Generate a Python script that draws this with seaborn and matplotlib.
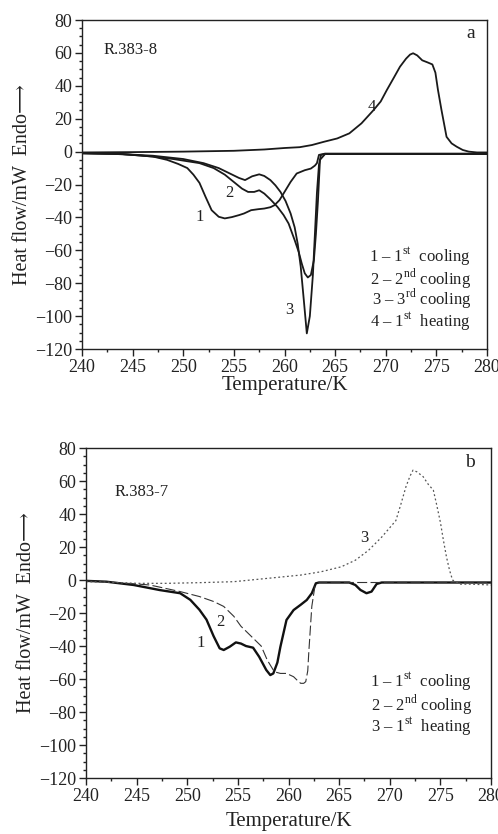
import matplotlib
matplotlib.use('Agg')
import matplotlib.pyplot as plt
from matplotlib.ticker import MultipleLocator
import seaborn as sns

# ---------------- panel a : R.383-8 ----------------
a1_temp = [240, 243, 245, 247, 248.4, 249.5, 250.4, 251.0, 251.6, 252.2, 252.8, 253.5, 254.1, 254.8,
           255.5, 256.0, 256.7, 257.4, 258.0, 258.6, 259.0, 259.5, 259.9, 260.6, 261.2, 262.0, 262.6,
           263.0, 263.2, 263.4, 264, 270, 280]
a1_flow = [-1, -1.3, -2, -3, -5, -7.5, -10, -14, -19, -27.5, -35.6, -39.6, -40.6, -39.8,
           -38.6, -37.6, -35.6, -35, -34.6, -33.8, -32.6, -29.5, -25.5, -18.4, -13.3, -11.3, -10.3,
           -8.5, -7, -2, -1.2, -1.2, -1.2]

a2_temp = [240, 244, 247, 249, 251.6, 253, 254.1, 255, 255.8, 256.4, 257.0, 257.5, 258.0, 258.6, 259.3,
           259.9, 260.4, 261.0, 261.4, 261.7, 262.0, 262.3, 262.6, 262.9, 263.1, 263.3, 263.5, 264, 280]
a2_flow = [-1, -1.5, -3, -4.5, -7, -10, -14, -18.5, -22.5, -24.5, -24.5, -23.5, -25.5, -29, -33.6,
           -38.5, -43.7, -53.8, -61, -68, -74, -76.5, -75, -66, -50, -30, -5, -1.5, -1.5]

a3_temp = [240, 244, 247, 250, 252, 253.5, 254.6, 255.5, 256.1, 256.8, 257.5, 258.0, 258.6, 259.1, 259.6,
           260.1, 260.6, 261.0, 261.3, 261.6, 261.9, 262.2, 262.5, 262.8, 263.0, 263.2, 263.4, 263.6, 264, 280]
a3_flow = [-1, -1.5, -2.5, -4.5, -7, -10, -13.3, -16, -17.3, -15, -13.8, -14.8, -17.3, -20.5, -24.5,
           -30, -37.6, -46, -56, -70, -90, -110.5, -100, -75, -50, -25, -8, -2, -1.5, -1.5]

a4_temp = [240, 245, 250, 255, 258, 260, 261.5, 262.7, 263.9, 265.2, 266.4, 267.6, 268.8, 269.5, 270.1,
           270.8, 271.4, 272.0, 272.4, 272.7, 273.1, 273.6, 274.1, 274.6, 274.9, 275.15, 275.5, 276.0,
           276.5, 277.0, 277.6, 278.2, 279, 280]
a4_flow = [-0.5, -0.3, 0, 0.5, 1.3, 2.2, 2.7, 4, 6, 8, 11.1, 17.2, 25.3, 30.5, 37.4,
           45, 51.6, 56.5, 59, 59.8, 58.5, 55.5, 54.3, 53, 48, 37.6, 25.3, 9,
           5, 3, 1, 0, -0.5, -0.5]

a_legend = ['1 – 1$^{\\mathrm{st}}$  cooling', '2 – 2$^{\\mathrm{nd}}$ cooling',
            '3 – 3$^{\\mathrm{rd}}$ cooling', '4 – 1$^{\\mathrm{st}}$  heating']
a_legend_y = [-64, -77, -89.5, -103]

# ---------------- panel b : R.383-7 ----------------
b1_temp = [240, 242, 244.7, 247.3, 249.3, 250.3, 251.2, 251.9, 252.6, 253.2, 253.6, 254.2, 254.8, 255.3,
           255.8, 256.5, 257.1, 257.8, 258.2, 258.5, 258.9, 259.2, 259.8, 260.5, 261.2, 261.8, 262.3,
           262.7, 263.0, 266.0, 266.6, 267.1, 267.7, 268.2, 268.7, 269.2, 280]
b1_flow = [-0.5, -1, -3, -6.1, -8, -12, -18, -24, -34, -41.4, -42.4, -40.4, -37.8, -38.5,
           -40, -41, -46.5, -54.5, -57.6, -56.6, -50, -40.4, -24.2, -18.2, -15, -12.1, -8,
           -2, -1.5, -1.5, -3, -6, -8, -7, -2.4, -1.5, -1.5]

b2_temp = [240, 243, 246.3, 249.3, 251.2, 252.6, 253.6, 254.6, 255.3, 256.3, 257.3, 257.9, 258.6, 259.2,
           259.8, 260.5, 260.9, 261.2, 261.5, 261.7, 261.9, 262.0, 262.15, 262.3, 262.6, 263, 280]
b2_flow = [-0.5, -1.5, -3, -7, -10, -13, -16, -22, -28, -34, -40, -48.5, -55.6, -56.6,
           -56.6, -58.6, -61, -62.6, -62.6, -61.6, -55, -44, -30, -16, -4, -1.5, -1.5]

b3_temp = [240, 243, 245, 248, 251.2, 254.6, 257.9, 261.2, 263.2, 265.2, 266.6, 267.9, 269.2, 270.6,
           271.1, 271.6, 272.0, 272.3, 272.7, 273.3, 273.8, 274.3, 274.6, 275.0, 275.3, 275.6, 275.9,
           276.2, 276.5, 277, 278, 280]
b3_flow = [-1, -1.5, -2, -2, -1.6, -1, 1, 3, 5, 8, 12, 18, 26, 36,
           46, 56.6, 63, 66.6, 65.5, 62.6, 58, 54.5, 46.5, 35, 24, 14, 6,
           0, -1, -2.5, -2.5, -3]

b_legend = ['1 – 1$^{\\mathrm{st}}$  cooling', '2 – 2$^{\\mathrm{nd}}$ cooling',
            '3 – 1$^{\\mathrm{st}}$  heating']
b_legend_y = [-61.6, -75.8, -89]

# **************************************************************************

sns.set_style('ticks')
plt.rcParams['font.family'] = ['Liberation Serif', 'DejaVu Serif']
plt.rcParams['mathtext.fontset'] = 'custom'
plt.rcParams['mathtext.rm'] = 'Liberation Serif'
plt.rcParams['axes.unicode_minus'] = True

INK = '#222222'


def style_axes(ax, xpad):
    ax.set_xlim(240, 280)
    ax.set_ylim(-120, 80)
    ax.xaxis.set_major_locator(MultipleLocator(5))
    ax.xaxis.set_minor_locator(MultipleLocator(2.5))
    ax.yaxis.set_major_locator(MultipleLocator(20))
    ax.yaxis.set_minor_locator(MultipleLocator(5))
    ax.tick_params(which='major', direction='out', length=5, width=1, labelsize=13,
                   colors=INK, pad=2)
    ax.tick_params(which='minor', direction='out', length=2.5, width=1, colors=INK)
    for s in ax.spines.values():
        s.set_visible(True)
        s.set_linewidth(1.0)
        s.set_color(INK)
    ax.set_xlabel('Temperature/K', fontsize=15, labelpad=xpad, color=INK)
    ax.set_ylabel('Heat flow/mW  Endo\u27f6', fontsize=14.5, labelpad=2, color=INK)


fig = plt.figure(figsize=(4.98, 8.34), dpi=100)
ax_a = fig.add_axes([0.1647, 0.5815, 0.8133, 0.3945])
ax_b = fig.add_axes([0.1727, 0.0671, 0.8133, 0.3957])

# panel a
for t, f in [(a1_temp, a1_flow), (a2_temp, a2_flow), (a3_temp, a3_flow), (a4_temp, a4_flow)]:
    sns.lineplot(x=t, y=f, ax=ax_a, sort=False, color='#1a1a1a', linewidth=1.3)
style_axes(ax_a, 0)
txt = dict(fontsize=12, color=INK)
ax_a.text(242.1, 62, 'R.383-8', ha='left', va='center', **txt)
ax_a.text(278.4, 72, 'a', ha='center', va='center', fontsize=14, color=INK)
ax_a.text(251.6, -40, '1', ha='center', va='center', **txt)
ax_a.text(254.6, -25, '2', ha='center', va='center', **txt)
ax_a.text(260.5, -96, '3', ha='center', va='center', **txt)
ax_a.text(268.6, 27, '4', ha='center', va='center', **txt)
for lab, ly in zip(a_legend, a_legend_y):
    ax_a.text(278.4, ly, lab, ha='right', va='center', **txt)

# panel b
sns.lineplot(x=b1_temp, y=b1_flow, ax=ax_b, sort=False, color='#111111', linewidth=1.7)
sns.lineplot(x=b2_temp, y=b2_flow, ax=ax_b, sort=False, color='#333333', linewidth=0.8,
             dashes=False).lines[-1].set_dashes([9, 3])
sns.lineplot(x=b3_temp, y=b3_flow, ax=ax_b, sort=False, color='#555555', linewidth=0.9,
             dashes=False).lines[-1].set_dashes([1.5, 2])
style_axes(ax_b, 5)
ax_b.text(242.8, 53.5, 'R.383-7', ha='left', va='center', **txt)
ax_b.text(277.9, 71, 'b', ha='center', va='center', fontsize=14, color=INK)
ax_b.text(251.3, -38.2, '1', ha='center', va='center', **txt)
ax_b.text(253.3, -25.3, '2', ha='center', va='center', **txt)
ax_b.text(267.5, 25.4, '3', ha='center', va='center', **txt)
for lab, ly in zip(b_legend, b_legend_y):
    ax_b.text(278.1, ly, lab, ha='right', va='center', **txt)

fig.savefig('out.png', dpi=100)
